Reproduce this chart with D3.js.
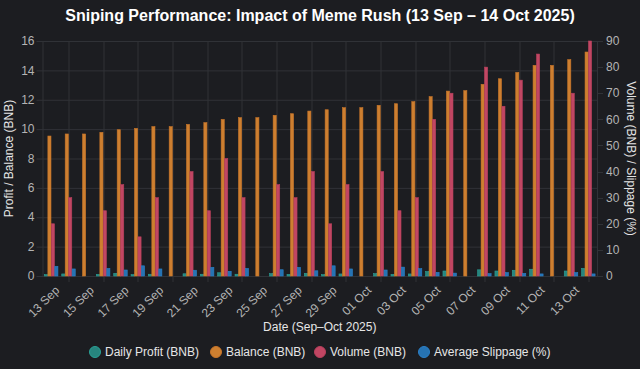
<!DOCTYPE html>
<html>
<head>
<meta charset="utf-8">
<script src="https://cdn.jsdelivr.net/npm/d3@7"></script>
<style>
  html, body { margin: 0; padding: 0; background: #1c1d21; }
  svg { display: block; font-family: "Liberation Sans", Arial, sans-serif; }
  .grid line { stroke: #303237; stroke-width: 1; }
</style>
</head>
<body>
<script>
var width = 640,
    height = 369,
    margin = {top: 41, right: 43, bottom: 93, left: 42.5};

var dates = ["13 Sep","14 Sep","15 Sep","16 Sep","17 Sep","18 Sep","19 Sep","20 Sep","21 Sep","22 Sep",
  "23 Sep","24 Sep","25 Sep","26 Sep","27 Sep","28 Sep","29 Sep","30 Sep","01 Oct","02 Oct",
  "03 Oct","04 Oct","05 Oct","06 Oct","07 Oct","08 Oct","09 Oct","10 Oct","11 Oct","12 Oct",
  "13 Oct","14 Oct"];

var dailyProfit = [0.09, 0.14, 0, 0.11, 0.18, 0.09, 0.12, 0, 0.15, 0.12, 0.22, 0.12, 0, 0.16, 0.11, 0.18,
  0.09, 0.14, 0, 0.16, 0.11, 0.14, 0.30, 0.34, 0, 0.42, 0.34, 0.39, 0.46, 0, 0.34, 0.52];

var balance = [9.53, 9.67, 9.67, 9.78, 9.96, 10.05, 10.17, 10.17, 10.32, 10.44, 10.66, 10.78, 10.78, 10.94,
  11.05, 11.23, 11.32, 11.46, 11.46, 11.62, 11.73, 11.87, 12.21, 12.59, 12.62, 13.05, 13.43, 13.86,
  14.34, 14.34, 14.73, 15.25];

var volume = [20, 30, 0, 25, 35, 15, 30, 0, 40, 25, 45, 30, 0, 35, 30, 40, 20, 35, 0, 40, 25, 30,
  60, 70, 0, 80, 65, 75, 85, 0, 70, 90];

var slippage = [3.7, 2.7, 0, 2.9, 2.3, 3.9, 2.7, 0, 2.2, 3.3, 1.8, 2.9, 0, 2.4, 3.3, 2.0, 3.9, 2.7, 0,
  2.3, 3.4, 2.8, 1.4, 1.1, 0, 0.9, 1.3, 1.0, 0.8, 0, 1.3, 0.8];

var leftTicks = [0, 2, 4, 6, 8, 10, 12, 14, 16];
var rightTicks = [0, 10, 20, 30, 40, 50, 60, 70, 80, 90];

var series = [
  {name: "Daily Profit (BNB)", values: dailyProfit, axis: "left", fill: "rgba(42,160,150,0.8)", stroke: "#2aa096"},
  {name: "Balance (BNB)", values: balance, axis: "left", fill: "rgba(236,145,50,0.85)", stroke: "#c8752a"},
  {name: "Volume (BNB)", values: volume, axis: "right", fill: "rgba(222,78,110,0.85)", stroke: "#b8405c"},
  {name: "Average Slippage (%)", values: slippage, axis: "right", fill: "rgba(40,130,205,0.85)", stroke: "#2a80c8"}
];

var plotW = width - margin.left - margin.right,
    plotH = height - margin.top - margin.bottom;

var svg = d3.select("body")
  .append("svg")
  .attr("width", width)
  .attr("height", height);

svg.append("rect")
  .attr("width", width)
  .attr("height", height)
  .attr("fill", "#1c1d21");

var x = d3.scaleBand()
  .domain(dates)
  .range([0, plotW]);

var xInner = d3.scaleBand()
  .domain(d3.range(series.length))
  .range([x.bandwidth() * 0.1, x.bandwidth() * 0.9]);

var yLeft = d3.scaleLinear().domain([0, 16]).range([plotH, 0]);
var yRight = d3.scaleLinear().domain([0, 90]).range([plotH, 0]);

var g = svg.append("g")
  .attr("transform", "translate(" + margin.left + "," + margin.top + ")");

// horizontal grid (left axis)
g.append("g")
  .attr("class", "grid")
  .selectAll("line")
  .data(leftTicks)
  .enter()
  .append("line")
  .attr("x1", -6)
  .attr("x2", plotW)
  .attr("y1", function(d) { return yLeft(d) + 0.5; })
  .attr("y2", function(d) { return yLeft(d) + 0.5; });

// vertical grid at every other category
var gridDates = dates.filter(function(d, i) { return i % 2 === 1; });
g.append("g")
  .attr("class", "grid")
  .selectAll("line")
  .data(gridDates)
  .enter()
  .append("line")
  .attr("x1", function(d) { return Math.round(x(d) + x.bandwidth() / 2) + 0.5; })
  .attr("x2", function(d) { return Math.round(x(d) + x.bandwidth() / 2) + 0.5; })
  .attr("y1", 0)
  .attr("y2", plotH + 6);

// left axis line
g.append("line")
  .attr("x1", 0.5).attr("x2", 0.5)
  .attr("y1", 0).attr("y2", plotH)
  .attr("stroke", "#303237");

// right axis tick marks
g.append("g")
  .attr("class", "grid")
  .selectAll("line")
  .data(rightTicks)
  .enter()
  .append("line")
  .attr("x1", plotW)
  .attr("x2", plotW + 6)
  .attr("y1", function(d) { return Math.round(yRight(d)) + 0.5; })
  .attr("y2", function(d) { return Math.round(yRight(d)) + 0.5; });

g.append("line")
  .attr("x1", plotW + 0.5).attr("x2", plotW + 0.5)
  .attr("y1", 0).attr("y2", plotH)
  .attr("stroke", "#303237");

// bars
series.forEach(function(s, si) {
  var y = s.axis === "left" ? yLeft : yRight;
  g.append("g")
    .selectAll("rect")
    .data(s.values)
    .enter()
    .append("rect")
    .attr("x", function(d, i) { return x(dates[i]) + xInner(si) + xInner.bandwidth() * 0.05; })
    .attr("width", xInner.bandwidth() * 0.9)
    .attr("y", function(d) { return y(d); })
    .attr("height", function(d) { return plotH - y(d); })
    .attr("fill", s.fill)
    .attr("stroke", function(d) { return d > 0 ? s.stroke : "none"; })
    .attr("stroke-width", 0.6);
});

// left ticks
g.append("g")
  .selectAll("text")
  .data(leftTicks)
  .enter()
  .append("text")
  .attr("x", -8)
  .attr("y", function(d) { return yLeft(d); })
  .attr("dy", "0.35em")
  .attr("text-anchor", "end")
  .attr("fill", "#b4b4b4")
  .attr("font-size", 12)
  .text(function(d) { return d; });

// right ticks
g.append("g")
  .selectAll("text")
  .data(rightTicks)
  .enter()
  .append("text")
  .attr("x", plotW + 9)
  .attr("y", function(d) { return yRight(d); })
  .attr("dy", "0.35em")
  .attr("text-anchor", "start")
  .attr("fill", "#b4b4b4")
  .attr("font-size", 12)
  .text(function(d) { return d; });

// x labels, every other date, rotated
g.append("g")
  .selectAll("text")
  .data(dates.filter(function(d, i) { return i % 2 === 0; }))
  .enter()
  .append("text")
  .attr("transform", function(d) {
    return "translate(" + (x(d) + x.bandwidth() / 2 + 6) + "," + (plotH + 12) + ") rotate(-45)";
  })
  .attr("text-anchor", "end")
  .attr("dy", "0.35em")
  .attr("fill", "#b4b4b4")
  .attr("font-size", 12)
  .text(function(d) { return d; });

// titles
svg.append("text")
  .attr("x", width / 2)
  .attr("y", 21)
  .attr("text-anchor", "middle")
  .attr("fill", "#ffffff")
  .attr("font-size", 16)
  .attr("font-weight", "bold")
  .text("Sniping Performance: Impact of Meme Rush (13 Sep \u2013 14 Oct 2025)");

svg.append("text")
  .attr("x", margin.left + plotW / 2)
  .attr("y", 331)
  .attr("text-anchor", "middle")
  .attr("fill", "#e6e6e6")
  .attr("font-size", 12)
  .text("Date (Sep\u2013Oct 2025)");

svg.append("text")
  .attr("transform", "translate(13," + (margin.top + plotH / 2) + ") rotate(-90)")
  .attr("text-anchor", "middle")
  .attr("fill", "#e6e6e6")
  .attr("font-size", 12)
  .text("Profit / Balance (BNB)");

svg.append("text")
  .attr("transform", "translate(627," + (margin.top + plotH / 2) + ") rotate(90)")
  .attr("text-anchor", "middle")
  .attr("fill", "#e6e6e6")
  .attr("font-size", 12)
  .text("Volume (BNB) / Slippage (%)");

// legend
var legendX = [95, 216, 320, 424];
var legend = svg.append("g")
  .selectAll("g")
  .data(series)
  .enter()
  .append("g")
  .attr("transform", function(d, i) { return "translate(" + legendX[i] + ",352)"; });

legend.append("circle")
  .attr("r", 5.5)
  .attr("fill", function(d) { return d.fill; })
  .attr("stroke", function(d) { return d.stroke; });

legend.append("text")
  .attr("x", 10)
  .attr("dy", "0.35em")
  .attr("fill", "#e6e6e6")
  .attr("font-size", 12)
  .text(function(d) { return d.name; });
</script>
</body>
</html>
